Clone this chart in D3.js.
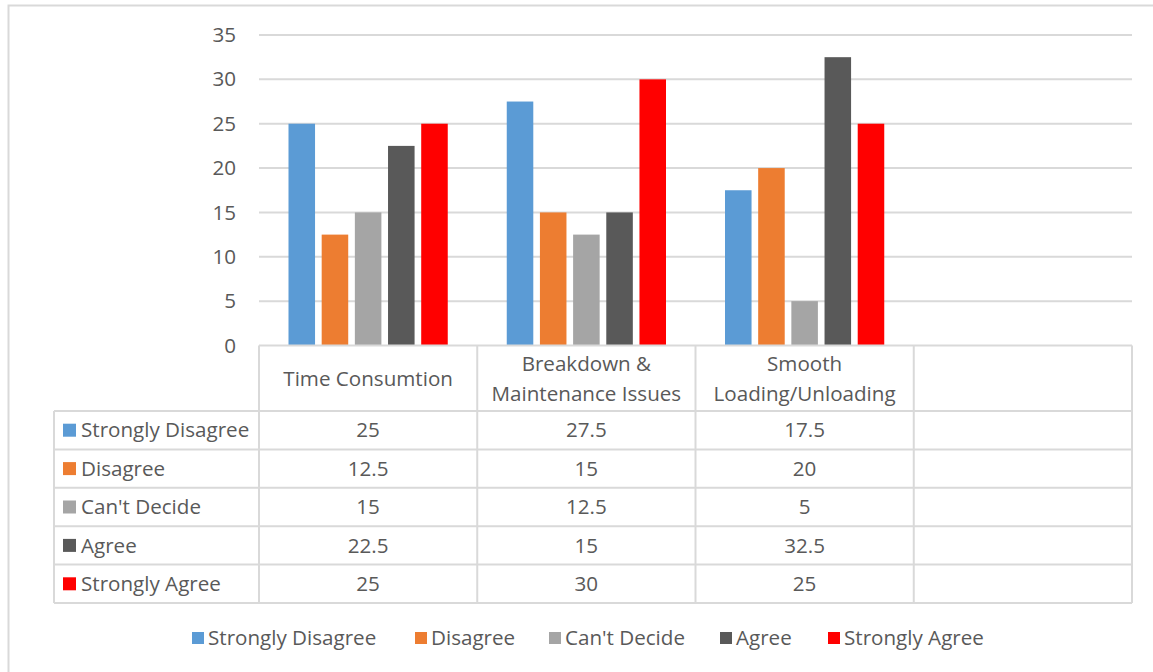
<!DOCTYPE html>
<html>
<head>
<meta charset="utf-8">
<script src="https://cdn.jsdelivr.net/npm/d3@7"></script>
<style>
  body { margin: 0; background: #fff; }
  text { font-family: "Open Sans", "Noto Sans", sans-serif; fill: #595959; }
</style>
</head>
<body>
<div id="chart"></div>
<script>
// categories (4th slot is empty in the source chart)
var categories = ["Time Consumtion", "Breakdown & Maintenance Issues", "Smooth Loading/Unloading", ""];
var categoryLines = [["Time Consumtion"], ["Breakdown &", "Maintenance Issues"], ["Smooth", "Loading/Unloading"], []];
var seriesNames = ["Strongly Disagree", "Disagree", "Can't Decide", "Agree", "Strongly Agree"];
var seriesColors = ["#5b9bd5", "#ed7d31", "#a5a5a5", "#595959", "#ff0000"];

var stronglyDisagree = [25, 27.5, 17.5];
var disagree = [12.5, 15, 20];
var cantDecide = [15, 12.5, 5];
var agree = [22.5, 15, 32.5];
var stronglyAgree = [25, 30, 25];
var yTicks = [0, 5, 10, 15, 20, 25, 30, 35];

var seriesValues = [stronglyDisagree, disagree, cantDecide, agree, stronglyAgree];

var svgWidth = 1153, svgHeight = 672;
var fontSize = 20.6;

var svg = d3.select("#chart").append("svg")
  .attr("width", svgWidth)
  .attr("height", svgHeight);

// chart border
svg.append("rect")
  .attr("x", 8.5).attr("y", 5.5)
  .attr("width", svgWidth + 10).attr("height", svgHeight + 10)
  .attr("fill", "none")
  .attr("stroke", "#d9d9d9")
  .attr("stroke-width", 2);

var plotLeft = 259, plotRight = 1132, plotTop = 35, plotBottom = 345.5;

var x0 = d3.scaleBand()
  .domain(d3.range(categories.length))
  .range([plotLeft, plotRight]);

var x1 = d3.scaleBand()
  .domain(d3.range(seriesNames.length))
  .range([29.5, x0.bandwidth() - 29.5])
  .paddingInner(0.2);

var y = d3.scaleLinear()
  .domain([0, 35])
  .range([plotBottom, plotTop]);

// gridlines
svg.append("g").selectAll("line")
  .data(yTicks.filter(d => d > 0))
  .enter().append("line")
  .attr("x1", plotLeft).attr("x2", plotRight)
  .attr("y1", d => y(d)).attr("y2", d => y(d))
  .attr("stroke", "#d9d9d9")
  .attr("stroke-width", 2);

// y axis labels
var yAxis = d3.axisLeft(y).tickValues(yTicks).tickSize(0).tickPadding(0);
var yAxisGroup = svg.append("g")
  .attr("transform", `translate(236, 0)`)
  .call(yAxis);
yAxisGroup.select(".domain").remove();
yAxisGroup.selectAll("text")
  .attr("font-size", fontSize)
  .attr("font-family", null)
  .style("fill", "#595959");

// bars
var barGroups = svg.append("g").selectAll("g")
  .data(seriesNames)
  .enter().append("g")
  .attr("fill", (d, i) => seriesColors[i]);

barGroups.selectAll("rect")
  .data((d, si) => seriesValues[si].map((v, ci) => ({ si: si, ci: ci, v: v })))
  .enter().append("rect")
  .attr("x", d => x0(d.ci) + x1(d.si))
  .attr("width", x1.bandwidth())
  .attr("y", d => y(d.v))
  .attr("height", d => y(0) - y(d.v));

// data table
var tableLeft = 54, headerBottom = 411, rowH = 38.4;
var tableBottom = headerBottom + rowH * seriesNames.length;
var table = svg.append("g");
var lineColor = "#d9d9d9";

// horizontal lines
table.append("line")
  .attr("x1", plotLeft).attr("x2", plotRight)
  .attr("y1", plotBottom).attr("y2", plotBottom)
  .attr("stroke", lineColor).attr("stroke-width", 2);
table.selectAll("line.h")
  .data(d3.range(seriesNames.length + 1))
  .enter().append("line")
  .attr("class", "h")
  .attr("x1", tableLeft).attr("x2", plotRight)
  .attr("y1", i => headerBottom + i * rowH).attr("y2", i => headerBottom + i * rowH)
  .attr("stroke", lineColor).attr("stroke-width", 2);

// vertical lines
var vx = d3.range(categories.length + 1).map(i => i < categories.length ? x0(i) : plotRight);
table.selectAll("line.v")
  .data(vx)
  .enter().append("line")
  .attr("class", "v")
  .attr("x1", d => d).attr("x2", d => d)
  .attr("y1", plotBottom).attr("y2", tableBottom)
  .attr("stroke", lineColor).attr("stroke-width", 2);
table.append("line")
  .attr("x1", tableLeft).attr("x2", tableLeft)
  .attr("y1", headerBottom).attr("y2", tableBottom)
  .attr("stroke", lineColor).attr("stroke-width", 2);

// header labels
var headerLineH = 30;
categoryLines.forEach(function(lines, ci) {
  var cy = (plotBottom + headerBottom) / 2 + 1;
  lines.forEach(function(t, li) {
    table.append("text")
      .attr("x", x0(ci) + x0.bandwidth() / 2)
      .attr("y", cy + (li - (lines.length - 1) / 2) * headerLineH)
      .attr("dy", "0.35em")
      .attr("text-anchor", "middle")
      .attr("font-size", fontSize)
      .text(t);
  });
});

// row labels with keys
seriesNames.forEach(function(name, si) {
  var cy = headerBottom + (si + 0.5) * rowH;
  table.append("rect")
    .attr("x", 63).attr("y", cy - 6.5)
    .attr("width", 13).attr("height", 13)
    .attr("fill", seriesColors[si]);
  table.append("text")
    .attr("x", 81).attr("y", cy)
    .attr("dy", "0.35em")
    .attr("font-size", fontSize)
    .text(name);
  seriesValues[si].forEach(function(v, ci) {
    table.append("text")
      .attr("x", x0(ci) + x0.bandwidth() / 2)
      .attr("y", cy)
      .attr("dy", "0.35em")
      .attr("text-anchor", "middle")
      .attr("font-size", fontSize)
      .text(v);
  });
});

// bottom legend
var legendX = [192, 415, 549, 720, 828];
var legend = svg.append("g").selectAll("g")
  .data(seriesNames)
  .enter().append("g")
  .attr("transform", (d, i) => `translate(${legendX[i]}, 638)`);
legend.append("rect")
  .attr("x", 0).attr("y", -6)
  .attr("width", 12).attr("height", 12)
  .attr("fill", (d, i) => seriesColors[i]);
legend.append("text")
  .attr("x", 16).attr("y", 0)
  .attr("dy", "0.35em")
  .attr("font-size", fontSize)
  .text(d => d);
</script>
</body>
</html>
